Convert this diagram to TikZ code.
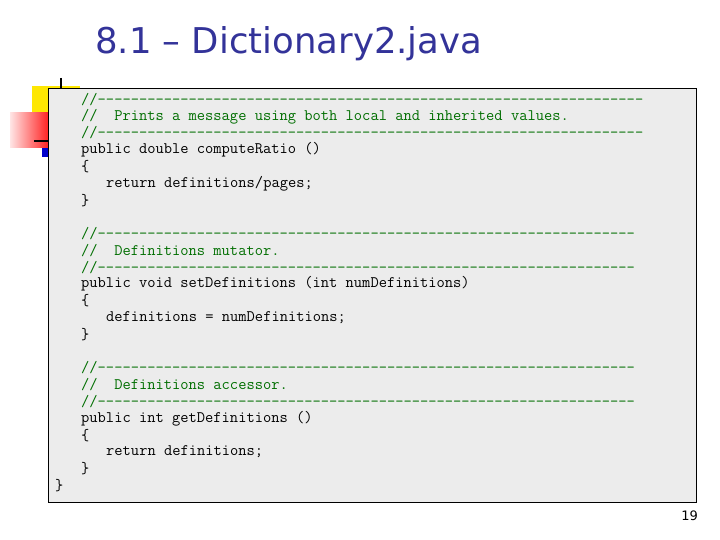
\documentclass[tikz,border=0pt]{standalone}
\usepackage{fontspec}
\setmainfont{DejaVu Sans}
\begin{document}
\begin{tikzpicture}[x=1pt,y=-1pt,
 code/.style={anchor=west,inner sep=0,font=\ttfamily\fontsize{16.05}{16}\selectfont},
 cmt/.style={code,text={rgb,255:red,0;green,110;blue,0}}]
\useasboundingbox (0,0) rectangle (720,540);
% decoration
\fill[yellow!90!orange] (32,86) rectangle (80,115);
\shade[left color=red!10!white,right color=red] (10,113) rectangle (55,148);
\fill[blue!80!black] (42,148) rectangle (50,157);
\draw[line width=2.5pt] (61,78) -- (61,145);
\draw[line width=2.5pt] (34,141) -- (60,141);
\node[draw=black,fill={rgb,255:red,236;green,236;blue,236},minimum width=648,minimum height=414,anchor=north west,inner sep=0] (box) at (48,88) {};
\node[anchor=west,inner sep=0,text={rgb,255:red,51;green,51;blue,153},font=\fontsize{35.5}{37}\selectfont] (title) at (95,44) {8.1 – Dictionary2.java};
\node[anchor=east,inner sep=0,font=\fontsize{13}{14}\selectfont] (pg) at (698,516) {19};
\def\dA{//------------------------------------------------------------------}
\def\dB{//-----------------------------------------------------------------}
\node[cmt] (l1) at (81,100) {\dA};
\node[cmt] (l2) at (81,117) {//\ \ Prints a message using both local and inherited values.};
\node[cmt] (l3) at (81,133) {\dA};
\node[code] (l4) at (81,150) {public double computeRatio ()};
\node[code] (l5) at (81,167) {\{};
\node[code] (l6) at (106,184) {return definitions/pages;};
\node[code] (l7) at (81,201) {\}};
\node[cmt] (m1) at (81,234) {\dB};
\node[cmt] (m2) at (81,251) {//\ \ Definitions mutator.};
\node[cmt] (m3) at (81,268) {\dB};
\node[code] (m4) at (81,284) {public void setDefinitions (int numDefinitions)};
\node[code] (m5) at (81,301) {\{};
\node[code] (m6) at (106,318) {definitions = numDefinitions;};
\node[code] (m7) at (81,335) {\}};
\node[cmt] (n1) at (81,368) {\dB};
\node[cmt] (n2) at (81,385) {//\ \ Definitions accessor.};
\node[cmt] (n3) at (81,402) {\dB};
\node[code] (n4) at (81,419) {public int getDefinitions ()};
\node[code] (n5) at (81,436) {\{};
\node[code] (n6) at (106,452) {return definitions;};
\node[code] (n7) at (81,469) {\}};
\node[code] (end) at (55,486) {\}};
\end{tikzpicture}
\end{document}
